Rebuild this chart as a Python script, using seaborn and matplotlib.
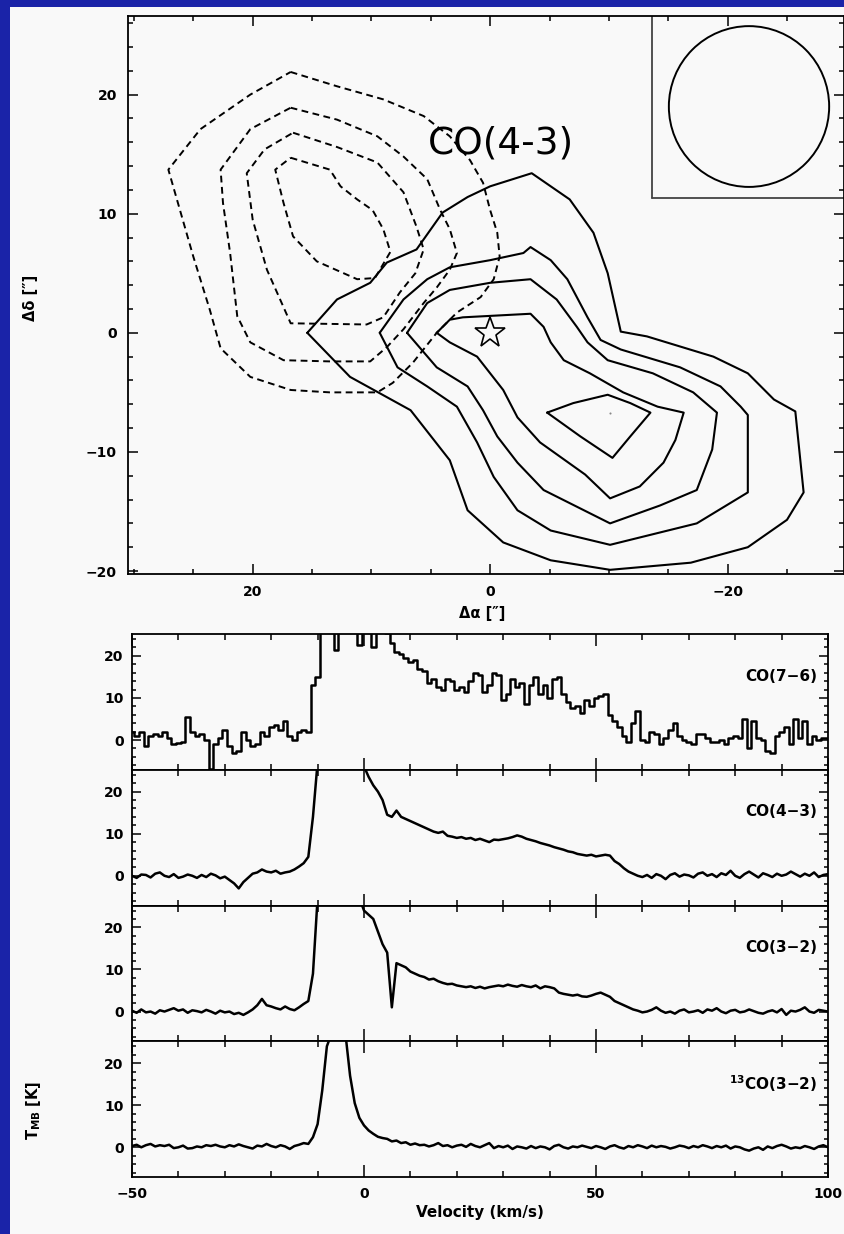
import numpy as np
import pandas as pd
import matplotlib
matplotlib.use("Agg")
import matplotlib.pyplot as plt
from matplotlib.patches import Rectangle, Circle
from matplotlib.ticker import MultipleLocator, FixedLocator
import seaborn as sns

# ---------------- data ----------------
# Map: outflow contours (offsets in arcsec)
blue_1_x = [16.8, 12.9, 9.0, 5.6, 3.4, 1.7, 0.6, 0.0, -0.6, -0.8, -0.3, 0.8, 2.8, 4.5, 6.5, 8.2, 9.5, 13.5, 16.8, 20.2, 22.7, 23.6, 25.0, 27.1, 24.4, 20.2]
blue_1_y = [21.9, 20.7, 19.6, 18.2, 16.5, 14.5, 12.6, 10.3, 8.4, 6.4, 4.5, 3.0, 1.7, 0.0, -2.5, -4.2, -5.0, -5.0, -4.8, -3.7, -1.3, 1.9, 6.4, 13.7, 17.1, 20.0]
blue_2_x = [16.8, 12.9, 9.5, 7.3, 5.3, 4.2, 3.4, 2.8, 3.4, 4.5, 5.6, 7.3, 8.7, 10.1, 13.5, 17.4, 20.2, 21.3, 21.9, 22.5, 22.7, 20.2]
blue_2_y = [18.9, 17.9, 16.5, 14.8, 12.9, 10.3, 8.7, 6.7, 5.3, 3.8, 2.5, 0.3, -1.2, -2.4, -2.4, -2.3, -0.8, 1.4, 6.7, 10.9, 13.7, 17.1]
blue_3_x = [16.6, 12.9, 9.5, 7.3, 6.2, 5.6, 6.3, 7.6, 9.0, 10.4, 16.8, 18.8, 20.0, 20.5, 19.0]
blue_3_y = [16.8, 15.6, 14.3, 11.8, 8.9, 7.0, 5.0, 3.4, 1.3, 0.7, 0.8, 5.3, 9.5, 13.4, 15.4]
blue_4_x = [16.8, 13.5, 12.6, 11.2, 9.9, 9.0, 8.4, 9.7, 11.2, 14.6, 16.6, 17.4, 18.1]
blue_4_y = [14.7, 13.7, 12.3, 11.2, 10.3, 8.7, 6.8, 4.6, 4.5, 6.0, 8.1, 10.9, 13.7]

red_1_x = [15.4, 12.9, 10.1, 8.7, 6.2, 4.0, 1.9, 0.0, -3.5, -6.7, -8.7, -9.9, -11.0, -13.2, -18.8, -21.7, -23.9, -25.7, -26.4, -25.0, -21.7, -16.9, -10.1, -5.1, -1.1, 1.9, 3.4, 6.7, 11.8]
red_1_y = [0.0, 2.8, 4.2, 5.9, 7.0, 10.1, 11.4, 12.3, 13.4, 11.2, 8.4, 5.0, 0.1, -0.3, -2.0, -3.4, -5.6, -6.6, -13.4, -15.7, -18.0, -19.3, -19.9, -19.1, -17.6, -14.9, -10.7, -6.5, -3.7]
red_2_x = [9.3, 7.3, 5.3, 3.4, 0.0, -2.8, -3.4, -5.1, -6.5, -8.2, -9.3, -11.0, -16.0, -19.4, -21.1, -21.7, -21.7, -17.4, -10.1, -5.1, -2.3, -0.3, 1.1, 2.8, 5.3, 7.8]
red_2_y = [0.0, 2.8, 4.5, 5.5, 6.1, 6.7, 7.2, 6.1, 4.5, 1.3, -0.6, -1.4, -2.9, -4.5, -6.2, -6.9, -13.4, -16.0, -17.8, -16.6, -14.9, -12.1, -9.2, -6.2, -4.5, -2.9]
red_3_x = [7.0, 5.3, 3.4, 0.0, -3.4, -5.6, -7.3, -8.2, -9.9, -13.7, -17.1, -19.1, -18.7, -17.4, -14.3, -10.1, -6.7, -4.5, -2.3, -0.6, 0.6, 1.9, 4.5]
red_3_y = [0.0, 2.5, 3.6, 4.2, 4.5, 2.8, 0.5, -0.8, -2.3, -3.4, -5.0, -6.7, -9.8, -13.2, -14.5, -16.0, -14.3, -13.2, -10.9, -8.7, -6.5, -4.5, -2.9]
red_4_x = [4.5, 3.4, 2.3, -3.4, -4.5, -5.1, -6.2, -8.4, -11.2, -14.1, -16.3, -15.6, -14.6, -12.6, -10.1, -8.0, -4.2, -2.3, -1.1, 1.1, 3.4]
red_4_y = [0.0, 1.1, 1.3, 1.6, 0.5, -0.8, -2.3, -3.4, -5.0, -6.2, -6.7, -9.0, -10.9, -12.9, -13.9, -11.9, -9.2, -7.1, -4.8, -2.0, -0.8]
red_5_x = [-4.8, -7.0, -9.9, -11.8, -13.5, -11.8, -10.3, -7.6]
red_5_y = [-6.7, -5.9, -5.2, -5.9, -6.7, -8.7, -10.5, -8.7]

source_pos = (0.0, 0.0)
red_peak = (-10.1, -6.7)
beam_center = (-21.8, 19.0)
beam_radius = 6.75
inset_corner = (-13.65, 11.35)
map_title = "CO(4-3)"

# Spectra (velocity in km/s, T_MB in K)
velocity = np.arange(-50, 101, 1)
co76 = [2.0, 1.0, 2.0, -1.5, 1.0, 1.5, 1.0, 2.0, 0.5, -1.0,
        -0.8, -0.5, 5.5, 2.0, 1.0, 1.5, 0.0, -7.0, -1.0, 0.5,
        2.5, -1.5, -3.0, -2.5, 2.0, 0.0, -1.5, -1.0, 2.0, 1.0,
        3.0, 3.5, 2.5, 4.5, 1.0, 0.0, 2.0, 2.5, 2.0, 13.0,
        15.0, 27.0, 27.0, 27.0, 21.5, 27.0, 27.0, 27.0, 27.0, 22.5,
        27.0, 27.0, 22.0, 27.0, 26.0, 25.5, 23.0, 21.0, 20.5, 19.5,
        18.5, 19.0, 17.0, 16.5, 13.5, 14.5, 12.5, 12.0, 14.5, 14.0,
        12.0, 12.5, 11.5, 14.0, 16.0, 15.5, 11.5, 13.0, 16.0, 15.5,
        9.5, 11.0, 14.5, 12.5, 13.5, 8.5, 13.0, 15.0, 11.0, 13.0,
        10.0, 14.5, 15.0, 11.0, 9.0, 7.5, 8.0, 6.5, 9.5, 8.0,
        10.0, 10.5, 11.0, 6.0, 4.5, 3.0, 1.0, -0.5, 4.0, 7.0,
        0.0, -0.5, 2.0, 1.5, -1.0, 0.5, 2.5, 4.0, 1.0, 0.0,
        -0.5, -1.0, 1.5, 1.5, 0.5, -0.5, -0.5, 0.0, -1.0, 0.5,
        1.0, 0.5, 5.0, -2.0, 4.5, 0.5, 0.0, -2.5, -3.0, 1.0,
        2.0, 3.0, -1.0, 5.0, 0.5, 4.5, -1.0, 1.0, 0.0, 0.5,
        0.5]
co43 = [0.0, -0.5, 0.3, 0.2, -0.4, 0.5, 0.8, 0.0, -0.3, 0.4,
        -0.5, -0.2, 0.3, 0.0, -0.5, 0.2, -0.3, 0.5, 0.1, -0.6,
        -0.2, -1.0, -1.8, -3.0, -1.5, -0.5, 0.5, 0.8, 1.5, 1.0,
        0.8, 1.2, 0.5, 0.8, 1.0, 1.5, 2.2, 3.0, 4.5, 14.0,
        27.0, 27.0, 27.0, 27.0, 27.0, 27.0, 27.0, 27.0, 27.0, 27.0,
        26.0, 23.5, 21.5, 20.0, 18.0, 14.5, 14.0, 15.5, 14.0, 13.5,
        13.0, 12.5, 12.0, 11.5, 11.0, 10.5, 10.2, 10.5, 9.5, 9.3,
        9.0, 9.2, 8.8, 9.0, 8.5, 8.8, 8.4, 8.0, 8.6, 8.5,
        8.7, 8.9, 9.2, 9.6, 9.3, 8.8, 8.5, 8.2, 7.8, 7.5,
        7.2, 6.8, 6.5, 6.2, 5.8, 5.6, 5.2, 5.0, 4.8, 5.0,
        4.6, 4.8, 5.0, 4.8, 3.5, 2.8, 1.8, 1.0, 0.5, 0.0,
        -0.3, 0.2, -0.5, 0.4, 0.0, -0.8, 0.2, 0.6, -0.2, 0.3,
        0.1, -0.4, 0.5, 0.8, 0.0, 0.4, -0.3, 0.6, 0.2, 1.2,
        0.0, -0.5, 0.4, 1.0, 0.3, -0.4, 0.6, 0.2, -0.3, 0.5,
        0.0, 0.3, 1.0, 0.4, -0.2, 0.5, 0.0, 0.8, -0.3, 0.2,
        0.4]
co32 = [0.2, -0.3, 0.5, -0.2, 0.0, -0.5, 0.3, 0.0, 0.4, 0.8,
        0.2, 0.5, -0.3, 0.3, 0.1, -0.2, 0.4, 0.0, -0.5, 0.2,
        -0.2, 0.0, -0.6, -0.3, -0.8, -0.2, 0.5, 1.5, 3.0, 1.5,
        1.2, 0.8, 0.5, 1.2, 0.6, 0.3, 1.0, 1.8, 2.5, 9.0,
        27.0, 27.0, 27.0, 27.0, 27.0, 27.0, 27.0, 27.0, 27.0, 27.0,
        24.0, 23.0, 22.0, 19.0, 16.0, 14.0, 1.0, 11.5, 11.0, 10.5,
        9.5, 9.0, 8.5, 8.2, 7.6, 7.8, 7.2, 6.8, 6.5, 6.6,
        6.2, 6.0, 5.8, 6.0, 5.6, 5.9, 5.5, 5.8, 6.0, 6.2,
        6.0, 6.4, 6.1, 5.9, 6.3, 6.0, 5.8, 6.2, 5.5, 6.0,
        5.8, 5.5, 4.5, 4.2, 4.0, 3.8, 4.0, 3.6, 3.5, 3.8,
        4.2, 4.5, 4.0, 3.5, 2.5, 2.0, 1.5, 1.0, 0.5, 0.2,
        -0.2, 0.0, 0.4, 1.0, 0.2, -0.3, 0.0, -0.5, 0.2, 0.5,
        -0.2, 0.0, 0.3, -0.3, 0.5, 0.2, 0.8, 0.0, -0.4, 0.2,
        0.4, -0.2, 0.0, 0.5, 0.1, -0.3, -0.5, 0.0, 0.3, -0.2,
        0.6, -0.8, 0.2, 0.0, 0.4, 1.0, 0.0, -0.3, 0.4, 0.2,
        0.0]
co13_32 = [0.3, 0.6, 0.0, 0.5, 0.8, 0.2, 0.5, 0.3, 0.6, -0.2,
           0.0, 0.4, -0.3, -0.2, 0.2, 0.0, 0.5, 0.3, 0.6, 0.2,
           0.0, 0.5, 0.2, 0.7, 0.3, 0.0, -0.3, 0.4, 0.2, 0.8,
           0.3, 0.0, 0.5, 0.2, -0.4, 0.3, 0.6, 1.0, 0.8, 2.4,
           5.5, 13.5, 24.0, 27.0, 27.0, 27.0, 27.0, 17.0, 10.5, 7.0,
           5.2, 4.0, 3.2, 2.5, 2.2, 2.0, 1.4, 1.6, 1.0, 1.2,
           0.6, 0.9, 0.5, 0.6, 0.2, 0.5, 1.0, 0.3, 0.5, 0.0,
           0.4, 0.6, 0.1, 0.8, 0.3, 0.0, 0.5, 1.0, -0.2, 0.3,
           0.0, 0.4, -0.4, 0.2, 0.0, -0.3, 0.3, -0.2, 0.2, 0.0,
           -0.5, 0.3, 0.6, 0.0, -0.3, 0.2, 0.0, 0.4, 0.1, -0.2,
           0.3, 0.0, -0.4, 0.2, 0.5, 0.0, -0.3, 0.3, 0.0, 0.5,
           0.2, -0.2, 0.4, 0.0, 0.3, 0.1, -0.3, 0.0, 0.4, 0.2,
           -0.2, 0.3, 0.0, 0.5, 0.2, -0.2, 0.3, 0.0, 0.4, -0.3,
           0.2, 0.0, -0.5, -0.8, -0.3, 0.0, -0.6, 0.2, -0.2, 0.3,
           0.6, 0.2, -0.3, 0.0, -0.2, 0.3, 0.0, -0.4, 0.2, 0.5,
           0.0]
spectra_labels = ["CO(7\u22126)", "CO(4\u22123)", "CO(3\u22122)", "$^{13}$CO(3\u22122)"]
spectra_values = [co76, co43, co32, co13_32]
spectra_steps = [True, False, False, False]

# ---------------- style ----------------
sns.set_theme(style="ticks")
plt.rcParams["font.family"] = ["DejaVu Sans"]
plt.rcParams["font.weight"] = "bold"
plt.rcParams["axes.labelweight"] = "bold"
plt.rcParams["axes.linewidth"] = 1.3
for key in ["text.color", "axes.labelcolor", "xtick.color", "ytick.color", "axes.edgecolor"]:
    plt.rcParams[key] = "black"

BLUE = "#1a23a8"
PAPER = "#f9f9f9"
W, H = 845, 1234

fig = plt.figure(figsize=(W / 100, H / 100), dpi=100, facecolor=BLUE)
fig.add_artist(Rectangle((10 / W, 0), 1, 1 - 7 / H, transform=fig.transFigure,
                         facecolor=PAPER, edgecolor="none", zorder=-10))


def style_ticks(ax):
    ax.tick_params(which="both", direction="in", top=True, right=True,
                   colors="black", labelcolor="black", labelsize=10, width=1.1)
    ax.tick_params(which="major", length=7)
    ax.tick_params(which="minor", length=3.5)


# ---------------- map ----------------
ax = fig.add_axes([128 / W, 1 - 574 / H, 716 / W, 558 / H])
ax.set_facecolor(PAPER)

blue = [(blue_1_x, blue_1_y), (blue_2_x, blue_2_y), (blue_3_x, blue_3_y), (blue_4_x, blue_4_y)]
red = [(red_1_x, red_1_y), (red_2_x, red_2_y), (red_3_x, red_3_y), (red_4_x, red_4_y), (red_5_x, red_5_y)]
for xs, ys in blue:
    xs = list(xs) + [xs[0]]
    ys = list(ys) + [ys[0]]
    sns.lineplot(x=xs, y=ys, sort=False, estimator=None, ax=ax, color="black",
                 lw=1.4, linestyle=(0, (3.5, 2.3)))
for xs, ys in red:
    xs = list(xs) + [xs[0]]
    ys = list(ys) + [ys[0]]
    sns.lineplot(x=xs, y=ys, sort=False, estimator=None, ax=ax, color="black", lw=1.5)

ax.plot(*source_pos, marker="*", ms=23, mfc="none", mec="black", mew=1.2)
ax.plot(*red_peak, marker="o", ms=1.5, color="#888888", mew=0)

xlim = (30.5, -29.8)
ylim = (-20.25, 26.6)
ax.set_xlim(*xlim)
ax.set_ylim(*ylim)

# beam inset
ax.plot([inset_corner[0], inset_corner[0]], [inset_corner[1], ylim[1]], color="#444444", lw=1.3)
ax.plot([inset_corner[0], xlim[1]], [inset_corner[1], inset_corner[1]], color="#444444", lw=1.3)
ax.add_patch(Circle(beam_center, beam_radius, fill=False, lw=1.4, ec="black"))

ax.text(-0.9, 15.9, map_title, ha="center", va="center", fontsize=27,
        fontweight="normal", family="DejaVu Sans", color="black")

ax.xaxis.set_major_locator(FixedLocator([20, 0, -20]))
ax.xaxis.set_minor_locator(MultipleLocator(5))
ax.yaxis.set_major_locator(MultipleLocator(10))
ax.yaxis.set_minor_locator(MultipleLocator(2))
style_ticks(ax)
ax.tick_params(axis="y", pad=8)
ax.tick_params(axis="x", pad=8)
ax.set_xlabel("\u0394\u03b1 [\u2033]", fontsize=10.5, va="center", color="black")
ax.set_ylabel("\u0394\u03b4 [\u2033]", fontsize=10.5, va="center", color="black")
ax.xaxis.set_label_coords((482 - 128) / 716, (574 - 614) / 558)
ax.yaxis.set_label_coords((30 - 128) / 716, (574 - 298) / 558)

# ---------------- spectra ----------------
ph = 135.75
for i, (lab, vals, steps) in enumerate(zip(spectra_labels, spectra_values, spectra_steps)):
    top = 634 + i * ph
    a = fig.add_axes([132 / W, 1 - (top + ph) / H, 696 / W, ph / H])
    a.set_facecolor(PAPER)
    df = pd.DataFrame({"v": velocity, "T": vals})
    kw = dict(drawstyle="steps-mid") if steps else {}
    sns.lineplot(data=df, x="v", y="T", ax=a, color="black", lw=1.8,
                 estimator=None, sort=False, **kw)
    a.set_xlim(-50, 100)
    a.set_ylim(-7.06, 25.2)
    a.xaxis.set_major_locator(MultipleLocator(50))
    a.xaxis.set_minor_locator(MultipleLocator(10))
    a.yaxis.set_major_locator(MultipleLocator(10))
    a.yaxis.set_minor_locator(MultipleLocator(2))
    style_ticks(a)
    a.tick_params(axis="x", which="major", length=8.5)
    a.tick_params(axis="x", which="minor", length=4.5)
    a.tick_params(axis="y", which="major", length=6.5)
    a.tick_params(axis="y", which="minor", length=3)
    a.tick_params(axis="y", pad=6)
    a.tick_params(axis="x", pad=7)
    a.text(0.985, 0.69, lab, transform=a.transAxes, ha="right", va="center",
           fontsize=11, color="black")
    a.set_xlabel("")
    a.set_ylabel("")
    if i < 3:
        a.tick_params(axis="x", labelbottom=False)
    else:
        a.set_xlabel("Velocity (km/s)", fontsize=11, va="center", color="black")
        a.xaxis.set_label_coords((480 - 132) / 696, (top + ph - 1212) / ph)
        a.set_ylabel("T$_{\\mathbf{MB}}$ [K]", fontsize=10.5, va="center", color="black")
        a.yaxis.set_label_coords((34 - 132) / 696, (top + ph - 1110) / ph)

fig.savefig("out.png", dpi=100, facecolor=fig.get_facecolor())
